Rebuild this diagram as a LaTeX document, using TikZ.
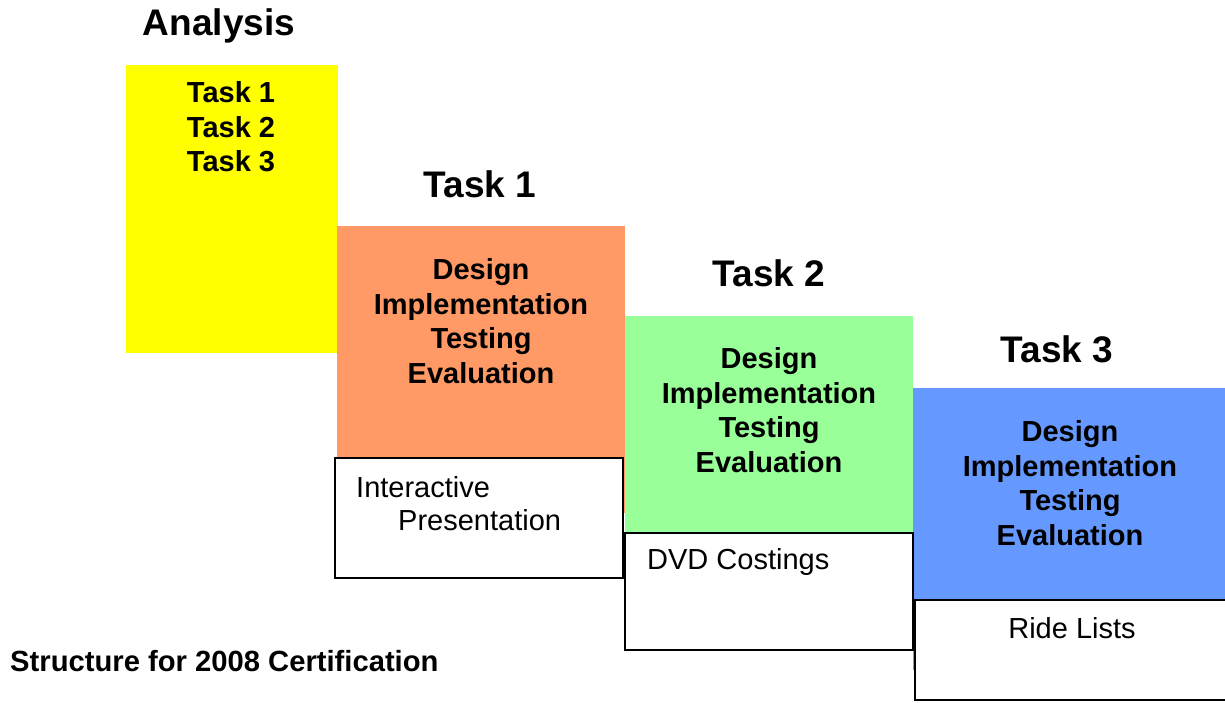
\documentclass[tikz,border=0pt]{standalone}
\usepackage{fontspec}
\setmainfont{Liberation Sans}
\definecolor{anayellow}{HTML}{FFFF00}
\definecolor{taskorange}{HTML}{FF9966}
\definecolor{taskgreen}{HTML}{99FF99}
\definecolor{taskblue}{HTML}{6699FF}
\begin{document}
\begin{tikzpicture}[x=1pt,y=-1pt,
  phase/.style={draw=none, inner sep=0pt, outer sep=0pt, anchor=north west},
  product/.style={draw=black, line width=1.8pt, fill=white, inner sep=0pt, outer sep=0pt, anchor=north west},
  heading/.style={font=\fontsize{37}{42}\selectfont\bfseries, inner sep=0pt},
  steps/.style={font=\fontsize{29}{34.5}\selectfont\bfseries, align=center, inner sep=0pt},
  deliverable/.style={font=\fontsize{29}{33.5}\selectfont, align=left, inner sep=0pt},
  caption/.style={font=\fontsize{29.2}{34}\selectfont\bfseries, inner sep=0pt}]
\useasboundingbox (0,0) rectangle (1225,702);
\fill[white] (0,0) rectangle (1225,702);

% coloured phase blocks
\node[phase, fill=anayellow, minimum width=212pt, minimum height=288pt] (ana) at (126,65) {};
\node[phase, fill=taskorange, minimum width=288pt, minimum height=287pt] (t1) at (337,226) {};
\node[phase, fill=taskgreen, minimum width=288pt, minimum height=216pt] (t2) at (625,316) {};
\node[phase, fill=taskblue, minimum width=312pt, minimum height=282pt] (t3) at (913,388) {};

% deliverable boxes
\node[product, minimum width=288pt, minimum height=120pt] (d1) at (335,458) {};
\node[product, minimum width=288pt, minimum height=117pt] (d2) at (625,533) {};
\node[product, minimum width=312pt, minimum height=100pt] (d3) at (915,600) {};

% headings
\node[heading] (hana) at (219,26) {Analysis};
\node[heading] (ht1) at (480,184) {Task 1};
\node[heading] (ht2) at (769,273) {Task 2};
\node[heading] (ht3) at (1057,349) {Task 3};

% block contents
\node[steps] (lana) at (231,127) {Task 1\\Task 2\\Task 3};
\node[steps] (l1) at (481,321) {Design\\Implementation\\Testing\\Evaluation};
\node[steps] (l2) at (769,410) {Design\\Implementation\\Testing\\Evaluation};
\node[steps] (l3) at (1070,483) {Design\\Implementation\\Testing\\Evaluation};

% deliverable labels
\node[deliverable, anchor=west] (p1) at (356,487) {Interactive};
\node[deliverable, anchor=west] (p1b) at (398,520) {Presentation};
\node[deliverable, anchor=west] (p2) at (647,562) {DVD Costings};
\node[deliverable] (p3) at (1072,628) {Ride Lists};

% caption
\node[caption, anchor=west] (cap) at (10,661) {Structure for 2008 Certification};
\end{tikzpicture}
\end{document}
